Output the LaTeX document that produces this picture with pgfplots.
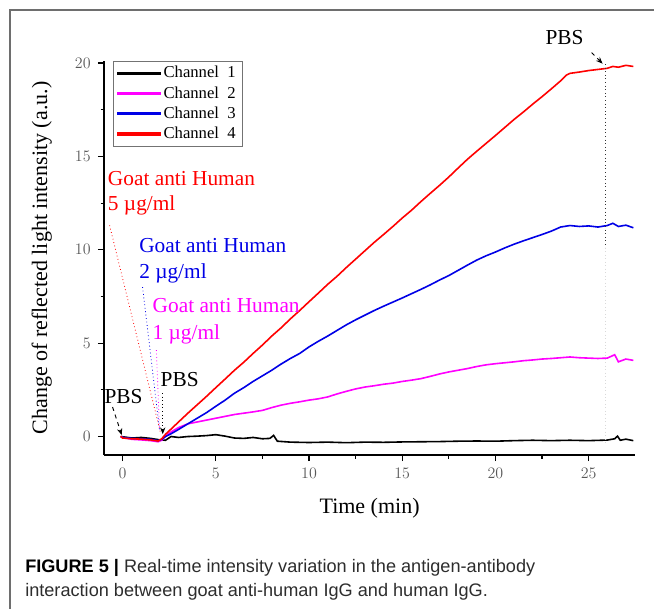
\documentclass[border=0pt]{standalone}
\usepackage{fontspec}
\setmainfont{Liberation Serif}
\newfontfamily\capfont{Liberation Sans}
\usepackage{pgfplots}
\pgfplotsset{compat=1.18}
\usetikzlibrary{arrows.meta}

\definecolor{chred}{RGB}{255,0,0}
\definecolor{chblue}{RGB}{0,0,230}
\definecolor{chmag}{RGB}{255,0,255}
\definecolor{framegray}{RGB}{110,110,110}
\definecolor{capgray}{RGB}{45,45,45}

\begin{document}
\begin{tikzpicture}
% page of 654x608 px, 1 px = 0.75 pt
\useasboundingbox (0,0) rectangle (490.5pt,456pt);
\draw[framegray, line width=0.8pt] (7.5pt,-2pt) -- (7.5pt,448.5pt) -- (492pt,448.5pt);

\begin{axis}[
    at={(78pt,114.6pt)}, anchor=south west,
    scale only axis,
    width=398.4pt, height=295.9pt,
    xmin=-1, xmax=27.5, ymin=-1, ymax=20.13,
    axis lines*=left,
    axis line style={-, line width=1.1pt},
    xtick={0,5,...,25}, ytick={0,5,...,20},
    minor tick num=1,
    tick align=outside,
    major tick length=4.5pt, minor tick length=2.6pt,
    tick style={line width=0.9pt, black},
    ticklabel style={font=\fontsize{11.5}{13}\selectfont, text=black!65},
    xticklabel style={yshift=-2pt},
    yticklabel style={xshift=-2pt},
    xlabel={Time (min)},
    ylabel={Change of reflected light intensity (a.u.)},
    every axis x label/.style={at={(axis description cs:0.5,-0.1465)}, anchor=base,
        font=\fontsize{16.5}{19}\selectfont},
    every axis y label/.style={at={(axis description cs:-0.117,0.5)}, anchor=center, rotate=90,
        font=\fontsize{16.5}{19}\selectfont},
    legend style={at={(axis description cs:0.017,1.0)}, anchor=north west,
        draw=black!55, line width=0.6pt, font=\fontsize{12.5}{14}\selectfont,
        row sep=1pt, inner xsep=3pt, inner ysep=2pt},
    legend cell align=left,
    clip=false,
]

% legend
\addlegendimage{legend image code/.code={\fill[black] (0pt,-0.8pt) rectangle (32pt,0.8pt);}}
\addlegendentry{Channel\enspace 1}
\addlegendimage{legend image code/.code={\fill[chmag] (0pt,-0.8pt) rectangle (32pt,0.8pt);}}
\addlegendentry{Channel\enspace 2}
\addlegendimage{legend image code/.code={\fill[chblue] (0pt,-0.8pt) rectangle (32pt,0.8pt);}}
\addlegendentry{Channel\enspace 3}
\addlegendimage{legend image code/.code={\fill[chred] (0pt,-0.8pt) rectangle (32pt,0.8pt);}}
\addlegendentry{Channel\enspace 4}

% Channel 1
\addplot[draw=black, line width=1.2pt, forget plot] coordinates {
(-0.1,0.00) (0.5,-0.08) (1.0,-0.05) (1.5,-0.10) (2.0,-0.18) (2.3,-0.20)
(2.6,0.00) (3.0,-0.05) (3.5,0.00) (4.0,0.02) (4.5,0.05) (5.0,0.10)
(5.5,0.02) (6.0,-0.08) (6.5,-0.10) (7.0,-0.05) (7.5,-0.12) (7.9,-0.10)
(8.1,0.06) (8.3,-0.25) (9.0,-0.30) (10.0,-0.32) (11.0,-0.30) (12.0,-0.33)
(13.0,-0.30) (14.0,-0.31) (15.0,-0.29) (16.0,-0.28) (17.0,-0.27) (18.0,-0.25)
(19.0,-0.24) (20.0,-0.25) (21.0,-0.22) (22.0,-0.20) (23.0,-0.22) (24.0,-0.20)
(25.0,-0.22) (26.0,-0.19) (26.4,-0.12) (26.55,0.02) (26.7,-0.20) (27.0,-0.14)
(27.4,-0.22)
};

% Channel 2
\addplot[draw=chmag, line width=1.2pt, forget plot] coordinates {
(-0.1,0.00) (0.0,-0.05) (0.5,-0.15) (1.0,-0.18) (1.5,-0.22) (1.9,-0.28)
(2.1,-0.20) (2.3,0.02) (2.6,0.25) (3.0,0.48) (3.5,0.68) (4.0,0.78)
(4.5,0.88) (5.0,0.98) (5.5,1.08) (6.0,1.18) (6.5,1.25) (7.0,1.32)
(7.5,1.40) (8.0,1.55) (8.5,1.68) (9.0,1.78) (9.5,1.86) (10.0,1.95)
(10.5,2.02) (11.0,2.12) (11.5,2.28) (12.0,2.42) (12.5,2.55) (13.0,2.65)
(13.5,2.72) (14.0,2.80) (14.5,2.86) (15.0,2.95) (15.5,3.02) (16.0,3.10)
(16.5,3.22) (17.0,3.35) (17.5,3.46) (18.0,3.55) (18.5,3.64) (19.0,3.75)
(19.5,3.84) (20.0,3.90) (20.5,3.95) (21.0,4.00) (21.5,4.06) (22.0,4.10)
(22.5,4.15) (23.0,4.18) (23.5,4.22) (24.0,4.26) (24.5,4.22) (25.0,4.20)
(25.5,4.18) (26.0,4.20) (26.4,4.38) (26.6,4.00) (27.0,4.15) (27.4,4.08)
};

% Channel 3
\addplot[draw=chblue, line width=1.2pt, forget plot] coordinates {
(-0.1,0.00) (0.0,-0.05) (0.5,-0.10) (1.0,-0.12) (1.5,-0.15) (1.9,-0.22)
(2.1,-0.15) (2.3,0.00) (2.6,0.15) (3.0,0.38) (3.5,0.68) (4.0,0.98)
(4.5,1.28) (5.0,1.62) (5.5,1.95) (6.0,2.32) (6.5,2.62) (7.0,2.95)
(7.5,3.25) (8.0,3.55) (8.5,3.88) (9.0,4.18) (9.5,4.45) (10.0,4.80)
(10.5,5.10) (11.0,5.38) (11.5,5.68) (12.0,5.98) (12.5,6.25) (13.0,6.50)
(13.5,6.75) (14.0,6.98) (14.5,7.20) (15.0,7.42) (15.5,7.65) (16.0,7.88)
(16.5,8.12) (17.0,8.38) (17.5,8.62) (18.0,8.90) (18.5,9.18) (19.0,9.45)
(19.5,9.68) (20.0,9.88) (20.5,10.10) (21.0,10.30) (21.5,10.48) (22.0,10.65)
(22.5,10.82) (23.0,11.00) (23.5,11.22) (24.0,11.30) (24.5,11.25) (25.0,11.28)
(25.5,11.22) (26.0,11.30) (26.3,11.42) (26.6,11.25) (27.0,11.32) (27.4,11.18)
};

% Channel 4
\addplot[draw=chred, line width=1.2pt, forget plot] coordinates {
(-0.1,0.02) (0.0,-0.08) (0.5,-0.12) (1.0,-0.14) (1.5,-0.18) (1.9,-0.24)
(2.1,-0.12) (2.3,0.12) (2.6,0.40) (3.0,0.78) (3.5,1.25) (4.0,1.70)
(4.5,2.15) (5.0,2.62) (5.5,3.08) (6.0,3.55) (6.5,3.98) (7.0,4.45)
(7.5,4.90) (8.0,5.38) (8.5,5.82) (9.0,6.30) (9.5,6.75) (10.0,7.22)
(10.5,7.68) (11.0,8.15) (11.5,8.58) (12.0,9.05) (12.5,9.50) (13.0,9.95)
(13.5,10.40) (14.0,10.82) (14.5,11.25) (15.0,11.70) (15.5,12.12) (16.0,12.58)
(16.5,13.02) (17.0,13.45) (17.5,13.90) (18.0,14.38) (18.5,14.85) (19.0,15.28)
(19.5,15.70) (20.0,16.12) (20.5,16.55) (21.0,16.98) (21.5,17.38) (22.0,17.80)
(22.5,18.20) (23.0,18.62) (23.5,19.05) (23.8,19.35) (24.0,19.45) (24.5,19.52)
(25.0,19.60) (25.5,19.66) (26.0,19.72) (26.3,19.82) (26.6,19.78) (27.0,19.88)
(27.4,19.82)
};

% injection markers
\draw[chred, dotted, line width=0.6pt] (axis cs:-0.70,11.31) -- (axis cs:2.02,0.25);
\draw[chblue, dotted, line width=0.6pt] (axis cs:1.07,8.0) -- (axis cs:1.98,0.35);
\draw[chmag, dotted, line width=0.6pt] (axis cs:1.81,4.63) -- (axis cs:1.98,0.35);

\node[anchor=base west, text=chred, font=\fontsize{16}{19}\selectfont, inner sep=0pt] at (axis cs:-0.80,13.45) {Goat anti Human};
\node[anchor=base west, text=chred, font=\fontsize{16}{19}\selectfont, inner sep=0pt] at (axis cs:-0.80,12.11) {5 µg/ml};
\node[anchor=base west, text=chblue, font=\fontsize{16}{19}\selectfont, inner sep=0pt] at (axis cs:0.88,9.88) {Goat anti Human};
\node[anchor=base west, text=chblue, font=\fontsize{16}{19}\selectfont, inner sep=0pt] at (axis cs:0.88,8.47) {2 µg/ml};
\node[anchor=base west, text=chmag, font=\fontsize{16}{19}\selectfont, inner sep=0pt] at (axis cs:1.60,6.62) {Goat anti Human};
\node[anchor=base west, text=chmag, font=\fontsize{16}{19}\selectfont, inner sep=0pt] at (axis cs:1.60,5.21) {1 µg/ml};

% PBS markers
\node[font=\fontsize{16}{19}\selectfont, inner sep=0pt] at (axis cs:0.05,2.12) {PBS};
\draw[dashed, line width=0.7pt, -{Stealth[length=5pt,width=4pt]}] (axis cs:-0.54,1.58) -- (axis cs:-0.05,0.08);
\node[font=\fontsize{16}{19}\selectfont, inner sep=0pt] at (axis cs:3.06,3.07) {PBS};
\draw[dotted, line width=0.7pt, -{Stealth[length=5pt,width=4pt]}] (axis cs:2.15,2.33) -- (axis cs:2.15,0.13);
\node[font=\fontsize{16}{19}\selectfont, inner sep=0pt] at (axis cs:23.71,21.36) {PBS};
\draw[dashed, line width=0.7pt, -{Stealth[length=5pt,width=4pt]}] (axis cs:25.16,20.56) -- (axis cs:25.75,19.97);
\draw[dotted, line width=0.7pt, black!80] (axis cs:25.9,19.95) -- (axis cs:25.9,10.1);
\draw[dotted, line width=0.6pt, black!15] (axis cs:25.9,10.1) -- (axis cs:25.9,-0.3);
\end{axis}

% caption
\node[anchor=base west, inner sep=0pt, font=\capfont\fontsize{13.6}{16}\selectfont, text=capgray] at (18.75pt,27pt)
  {\textcolor{black}{\textbf{FIGURE 5 |}} Real-time intensity variation in the antigen-antibody};
\node[anchor=base west, inner sep=0pt, font=\capfont\fontsize{13.6}{16}\selectfont, text=capgray] at (18.75pt,9pt)
  {interaction between goat anti-human IgG and human IgG.};
\end{tikzpicture}
\end{document}
